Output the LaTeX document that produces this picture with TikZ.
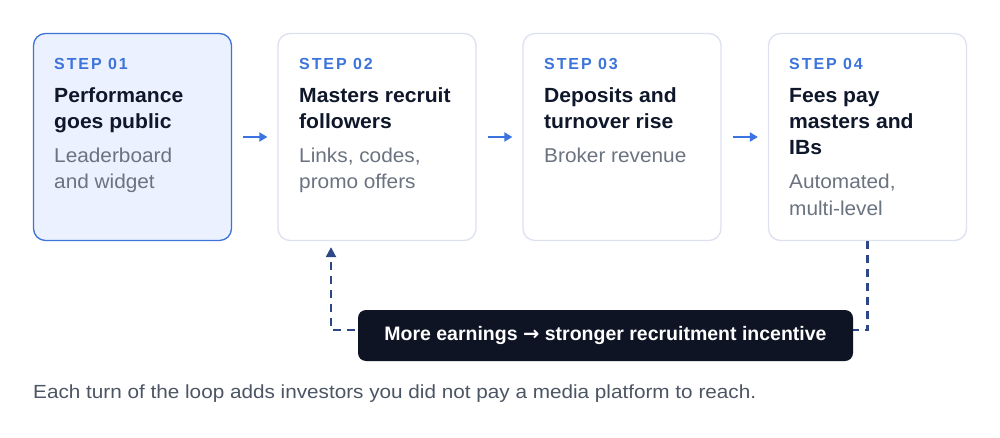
\documentclass[tikz,border=0pt]{standalone}
\usepackage{fontspec}
\setmainfont{Liberation Sans}
\newfontfamily\arrowfont{DejaVu Sans}
\usetikzlibrary{arrows.meta}
\definecolor{activefill}{HTML}{EBF1FE}
\definecolor{activeborder}{HTML}{3F73DA}
\definecolor{boxborder}{HTML}{DDE1F0}
\definecolor{steptxt}{HTML}{3D74DB}
\definecolor{titletxt}{HTML}{0F172A}
\definecolor{subtxt}{HTML}{6B7280}
\definecolor{flowblue}{HTML}{3B74E0}
\definecolor{loopnavy}{HTML}{2D4787}
\definecolor{pillfill}{HTML}{0F1424}
\definecolor{notetxt}{HTML}{4B5563}
\tikzset{
  stepbox/.style={draw=boxborder, line width=1.3pt, fill=white, rounded corners=12pt,
    minimum width=198pt, minimum height=207pt, inner sep=0pt},
  activebox/.style={stepbox, draw=activeborder, fill=activefill},
  steplbl/.style={anchor=base west, inner sep=0pt, text=steptxt,
    font={\bfseries\fontsize{16}{20}\selectfont\addfontfeature{LetterSpace=12}}},
  titlelbl/.style={anchor=base west, inner sep=0pt, text=titletxt, align=left,
    font={\bfseries\fontsize{20.5}{26}\selectfont\addfontfeature{FakeStretch=1.03}}},
  sublbl/.style={anchor=base west, inner sep=0pt, text=subtxt, align=left,
    font={\fontsize{20}{26}\selectfont\addfontfeature{FakeStretch=1.04}}},
  flow/.style={draw=flowblue, line width=2pt, -{Triangle[length=8pt,width=9pt]}},
  loop/.style={draw=loopnavy, line width=2.2pt, dash pattern=on 8pt off 6pt,
    -{Triangle[length=10pt,width=10pt]}},
  pill/.style={fill=pillfill, rounded corners=8pt, minimum width=495pt,
    minimum height=51pt, inner sep=0pt, text=white,
    font={\bfseries\fontsize{19.5}{24}\selectfont}},
  note/.style={anchor=base west, inner sep=0pt, text=notetxt,
    font={\fontsize{19}{22}\selectfont\addfontfeature{FakeStretch=1.09}}}
}
\begin{document}
\begin{tikzpicture}[x=1pt,y=-1pt]
\useasboundingbox (0,0) rectangle (1000,438);
\fill[white] (0,0) rectangle (1000,438);

\node[activebox] (b1) at (132.5,137) {};
\node[stepbox] (b2) at (377,137) {};
\node[stepbox] (b3) at (622,137) {};
\node[stepbox] (b4) at (867.5,137) {};

% multi-line nodes are placed by the baseline of their last line
\node[steplbl] (s1) at (54,70) {STEP 01};
\node[titlelbl] (t1) at (54,129) {Performance\\goes public};
\node[sublbl] (u1) at (54,189) {Leaderboard\\and widget};

\node[steplbl] (s2) at (299,70) {STEP 02};
\node[titlelbl] (t2) at (299,129) {Masters recruit\\followers};
\node[sublbl] (u2) at (299,189) {Links, codes,\\promo offers};

\node[steplbl] (s3) at (544,70) {STEP 03};
\node[titlelbl] (t3) at (544,129) {Deposits and\\turnover rise};
\node[sublbl] (u3) at (544,163) {Broker revenue};

\node[steplbl] (s4) at (789,70) {STEP 04};
\node[titlelbl] (t4) at (789,155) {Fees pay\\masters and\\IBs};
\node[sublbl] (u4) at (789,215) {Automated,\\multi-level};

\draw[flow] ([xshift=11pt]b1.east) -- ([xshift=-10pt]b2.west);
\draw[flow] ([xshift=11pt]b2.east) -- ([xshift=-10pt]b3.west);
\draw[flow] ([xshift=11pt]b3.east) -- ([xshift=-10pt]b4.west);

\coordinate (loopend) at ([xshift=-46pt,yshift=-6pt]b2.south);
\draw[loop] (b4.south) -- ++(0,89) -| (loopend);

\node[pill] (p) at (605.5,335.5) {More earnings {\arrowfont →} stronger recruitment incentive};

\node[note] (n) at (33,398) {Each turn of the loop adds investors you did not pay a media platform to reach.};
\end{tikzpicture}
\end{document}
